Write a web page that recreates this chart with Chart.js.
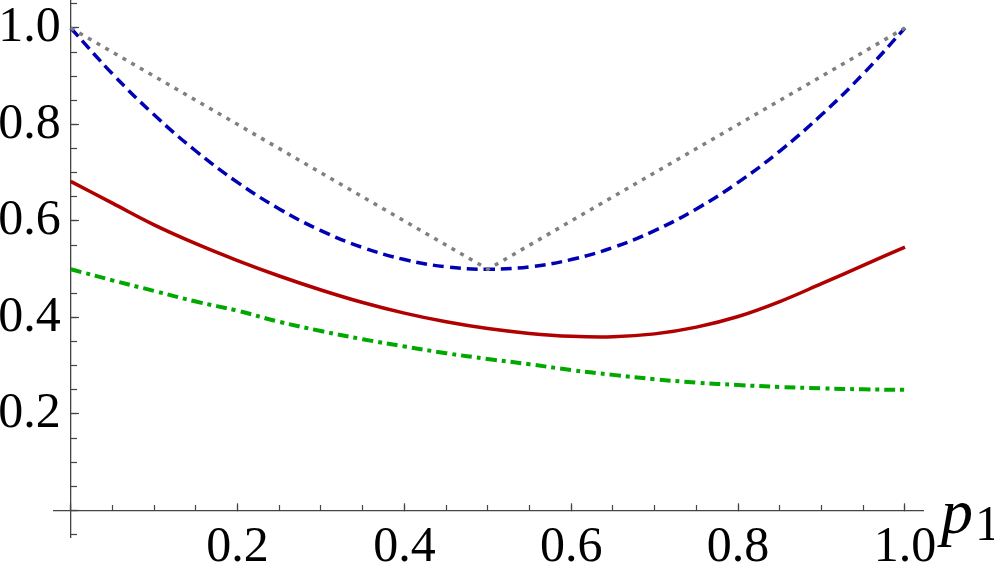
<!DOCTYPE html>
<html>
<head>
<meta charset="utf-8">
<title>p1 plot</title>
<script src="https://cdn.jsdelivr.net/npm/chart.js@4/dist/chart.umd.min.js"></script>
<style>
	html, body { margin: 0; padding: 0; background: #fff; }
	canvas { display: block; }
</style>
</head>
<body>
<canvas id="plot" width="994" height="567"></canvas>
<script>
	"use strict";

	// p1 sample points, step 0.05
	var P_VALUES = [0, 0.05, 0.1, 0.15, 0.2, 0.25, 0.3, 0.35, 0.4, 0.45, 0.5,
		0.55, 0.6, 0.65, 0.7, 0.75, 0.8, 0.85, 0.9, 0.95, 1];

	// red solid curve
	var RED_VALUES = [0.682, 0.637, 0.592, 0.553, 0.518, 0.486, 0.457, 0.431, 0.409, 0.391, 0.377,
		0.367, 0.361, 0.360, 0.366, 0.380, 0.402, 0.433, 0.470, 0.508, 0.546];

	// blue dashed curve
	var BLUE_VALUES = [1.0, 0.905, 0.82, 0.745, 0.68, 0.625, 0.58, 0.545, 0.52, 0.505, 0.5,
		0.505, 0.52, 0.545, 0.58, 0.625, 0.68, 0.745, 0.82, 0.905, 1.0];

	// green dot-dashed curve
	var GREEN_VALUES = [0.500, 0.477, 0.455, 0.433, 0.414, 0.391, 0.372, 0.355, 0.340, 0.326, 0.314,
		0.303, 0.291, 0.281, 0.272, 0.265, 0.260, 0.256, 0.253, 0.251, 0.250];

	// gray dotted V
	var GRAY_P = [0, 0.5, 1];
	var GRAY_VALUES = [1, 0.5, 1];

	var X_MIN = -0.02, X_MAX = 1.0216;
	var Y_MIN = -0.055, Y_MAX = 1.058;

	var FONT = "'Liberation Serif', 'Times New Roman', serif";
	var AXIS_COLOR = "#444";

	function toPoints(xs, ys) {
		var pts = [];
		for (var i = 0; i < xs.length; i++) {
			pts.push({ x: xs[i], y: ys[i] });
		}
		return pts;
	}

	function isMajor(v) {
		return Math.abs(v / 0.2 - Math.round(v / 0.2)) < 1e-6;
	}

	function xLabel(v) {
		if (v < 0.1 || !isMajor(v)) {
			return "";
		}
		return v.toFixed(1);
	}

	// y labels sit right on the axis line otherwise, thin space gives the gap
	function yLabel(v) {
		var s = xLabel(v);
		return s ? s + "\u2009" : s;
	}

	function noPadding(scale) {
		scale.paddingTop = 0;
		scale.paddingBottom = 0;
		scale.paddingLeft = 0;
		scale.paddingRight = 0;
	}

	var axisTitle = {
		id: "axisTitle",
		afterDraw: function(chart) {
			var ctx = chart.ctx;
			var x0 = chart.scales.x.right;
			var y0 = chart.scales.y.getPixelForValue(0);
			ctx.save();
			ctx.fillStyle = "#000";
			ctx.textBaseline = "alphabetic";
			ctx.textAlign = "left";
			ctx.font = "italic 64px " + FONT;
			ctx.fillText("p", x0 + 18, y0 + 23);
			ctx.font = "50px " + FONT;
			ctx.fillText("1", x0 + 52, y0 + 30);
			ctx.restore();
		}
	};

	document.addEventListener("DOMContentLoaded", function() {
		var ctx = document.getElementById("plot").getContext("2d");

		var myChart = new Chart(ctx, {
			type: "scatter",
			data: {
				datasets: [{
					label: "gray",
					data: toPoints(GRAY_P, GRAY_VALUES),
					borderColor: "rgb(128, 128, 128)",
					borderWidth: 3.5,
					borderDash: [4, 6],
					tension: 0,
					order: 0
				},
				{
					label: "blue",
					data: toPoints(P_VALUES, BLUE_VALUES),
					borderColor: "rgb(0, 0, 180)",
					borderWidth: 3.5,
					borderDash: [11, 6],
					tension: 0.4,
					order: 1
				},
				{
					label: "red",
					data: toPoints(P_VALUES, RED_VALUES),
					borderColor: "rgb(176, 0, 0)",
					borderWidth: 3.5,
					tension: 0.4,
					order: 2
				},
				{
					label: "green",
					data: toPoints(P_VALUES, GREEN_VALUES),
					borderColor: "rgb(0, 168, 0)",
					borderWidth: 4,
					borderDash: [11, 5, 4, 5],
					tension: 0.4,
					order: 3
				}]
			},
			options: {
				responsive: false,
				animation: false,
				devicePixelRatio: 1,
				showLine: true,
				elements: {
					point: { radius: 0, hoverRadius: 0 },
					line: { fill: false, borderCapStyle: "butt" }
				},
				layout: {
					padding: { left: 54, right: 71, top: 0, bottom: 30 }
				},
				plugins: {
					legend: { display: false },
					tooltip: { enabled: false }
				},
				scales: {
					x: {
						type: "linear",
						position: { y: 0 },
						min: X_MIN,
						max: X_MAX,
						afterFit: noPadding,
						border: { display: true, color: AXIS_COLOR, width: 1.3 },
						grid: { drawOnChartArea: false, drawTicks: true, tickLength: -8, tickColor: AXIS_COLOR, tickWidth: 1.2 },
						ticks: {
							stepSize: 0.2,
							includeBounds: false,
							autoSkip: false,
							maxRotation: 0,
							padding: 15,
							color: "#000",
							font: { family: FONT, size: 50 },
							callback: xLabel
						}
					},
					xm: {
						type: "linear",
						position: { y: 0 },
						min: X_MIN,
						max: X_MAX,
						afterFit: noPadding,
						border: { display: false },
						grid: { drawOnChartArea: false, drawTicks: true, tickLength: -5, tickColor: AXIS_COLOR, tickWidth: 1.2 },
						ticks: {
							stepSize: 0.05,
							includeBounds: false,
							autoSkip: false,
							maxRotation: 0,
							callback: function() { return ""; }
						}
					},
					y: {
						type: "linear",
						position: { x: 0 },
						min: Y_MIN,
						max: Y_MAX,
						afterFit: noPadding,
						border: { display: true, color: AXIS_COLOR, width: 1.3 },
						grid: { drawOnChartArea: false, drawTicks: true, tickLength: -9, tickColor: AXIS_COLOR, tickWidth: 1.2 },
						ticks: {
							stepSize: 0.2,
							includeBounds: false,
							autoSkip: false,
							color: "#000",
							font: { family: FONT, size: 50 },
							callback: yLabel
						}
					},
					ym: {
						type: "linear",
						position: { x: 0 },
						min: Y_MIN,
						max: Y_MAX,
						afterFit: noPadding,
						border: { display: false },
						grid: { drawOnChartArea: false, drawTicks: true, tickLength: -6, tickColor: AXIS_COLOR, tickWidth: 1.2 },
						ticks: {
							stepSize: 0.05,
							includeBounds: false,
							autoSkip: false,
							callback: function() { return ""; }
						}
					}
				}
			},
			plugins: [axisTitle]
		});
	});
</script>
</body>
</html>
